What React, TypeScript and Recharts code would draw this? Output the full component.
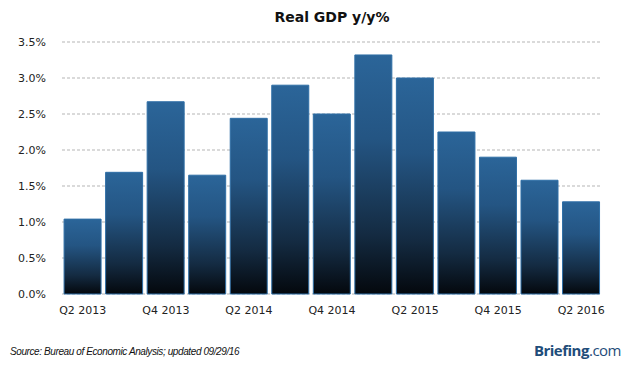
import { Bar, BarChart, CartesianGrid, XAxis, YAxis } from "recharts";

const quarters = [
  "Q2 2013", "Q3 2013", "Q4 2013", "Q1 2014", "Q2 2014", "Q3 2014", "Q4 2014",
  "Q1 2015", "Q2 2015", "Q3 2015", "Q4 2015", "Q1 2016", "Q2 2016",
];
const gdp = [1.04, 1.69, 2.67, 1.65, 2.44, 2.9, 2.5, 3.32, 3.0, 2.25, 1.9, 1.58, 1.28];
const yTicks = [0, 0.5, 1, 1.5, 2, 2.5, 3, 3.5];

const data = quarters.map((q, i) => ({ q, v: gdp[i] }));

const FONT = "'DejaVu Sans', Verdana, sans-serif";
const TICK = { fill: "#222", fontSize: 11, fontFamily: FONT } as const;

export default function App() {
  document.body.style.margin = "0";
  return (
    <div style={{ position: "relative", width: 626, height: 367, background: "#fff", fontFamily: FONT, overflow: "hidden" }}>
      <div style={{ position: "absolute", top: 9, left: 0, width: 664, textAlign: "center", fontSize: 14, fontWeight: "bold", color: "#111" }}>
        Real GDP y/y%
      </div>
      <BarChart
        width={626}
        height={320}
        data={data}
        margin={{ top: 42, right: 24, left: 0, bottom: 0 }}
        barCategoryGap="5%"
      >
        <defs>
          <linearGradient id="gBar" x1="0" y1="0" x2="0" y2="1">
            <stop offset="0%" stopColor="#2b6599" />
            <stop offset="35%" stopColor="#245583" />
            <stop offset="75%" stopColor="#142b42" />
            <stop offset="100%" stopColor="#04080d" />
          </linearGradient>
        </defs>
        <CartesianGrid stroke="#b5b5b5" strokeDasharray="3 2" vertical={false} />
        <XAxis
          dataKey="q"
          interval={1}
          axisLine={false}
          tickLine={false}
          tick={TICK}
          tickMargin={6}
          height={26}
        />
        <YAxis
          domain={[0, 3.5]}
          ticks={yTicks}
          tickFormatter={(v) => `${v.toFixed(1)}%`}
          axisLine={false}
          tickLine={false}
          tick={TICK}
          width={62}
          tickMargin={10}
        />
        <Bar dataKey="v" fill="url(#gBar)" stroke="#2e6ea6" strokeWidth={1} isAnimationActive={false} />
      </BarChart>
      <div style={{ position: "absolute", top: 346, left: 10, fontSize: 10, fontStyle: "italic", color: "#111", fontFamily: "'Liberation Sans', Arial, sans-serif", letterSpacing: -0.4 }}>
        Source: Bureau of Economic Analysis; updated 09/29/16
      </div>
      <div style={{ position: "absolute", top: 340, right: 5, fontSize: 15, fontWeight: "bold", color: "#1f4d7a", letterSpacing: -0.5, fontFamily: "'Open Sans', sans-serif" }}>
        Briefing<span style={{ fontWeight: "normal" }}>.com</span>
      </div>
    </div>
  );
}
